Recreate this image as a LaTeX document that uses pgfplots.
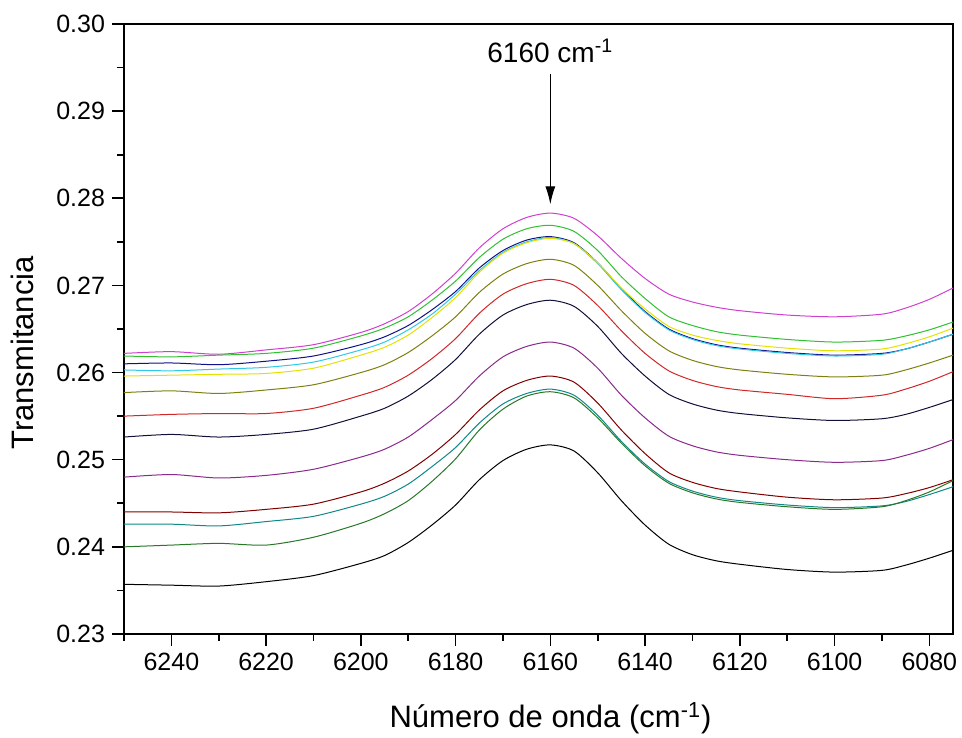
\documentclass[border=0pt]{standalone}
\usepackage{fontspec}
\setmainfont{Liberation Sans}
\usepackage{pgfplots}
\usepackage{pgfplotstable}
\pgfplotsset{compat=1.18}
\usetikzlibrary{arrows.meta}

\definecolor{cMag}{HTML}{D040D0}
\definecolor{cGrn}{HTML}{30C030}
\definecolor{cNavy}{HTML}{10108A}
\definecolor{cCyan}{HTML}{30C8E8}
\definecolor{cYel}{HTML}{E2E200}
\definecolor{cOlive}{HTML}{808010}
\definecolor{cRed}{HTML}{D02828}
\definecolor{cDark}{HTML}{101038}
\definecolor{cPurp}{HTML}{8A2A8A}
\definecolor{cWine}{HTML}{800000}
\definecolor{cTeal}{HTML}{108888}
\definecolor{cDGrn}{HTML}{287828}

% transmittance spectra, one column per sample
\pgfplotstableread{
x    c1    c2    c3    c4    c5    c6    c7    c8    c9    c10   c11   c12   c13
6250 .2622 .2619 .2610 .2603 .2596 .2577 .2550 .2526 .2480 .2440 .2426 .2400 .2357
6240 .2624 .2618 .2611 .2602 .2597 .2579 .2552 .2529 .2483 .2440 .2426 .2402 .2356
6230 .2621 .2620 .2609 .2604 .2598 .2576 .2553 .2526 .2479 .2439 .2424 .2404 .2355
6220 .2626 .2622 .2613 .2606 .2599 .2580 .2553 .2529 .2482 .2443 .2429 .2402 .2360
6210 .2632 .2628 .2619 .2612 .2605 .2586 .2559 .2535 .2489 .2449 .2435 .2411 .2367
6200 .2646 .2642 .2632 .2626 .2620 .2600 .2574 .2550 .2503 .2463 .2449 .2427 .2381
6195 .2656 .2651 .2641 .2635 .2629 .2609 .2583 .2559 .2512 .2473 .2458 .2438 .2390
6190 .2670 .2664 .2654 .2649 .2643 .2623 .2597 .2573 .2526 .2487 .2472 .2453 .2405
6185 .2690 .2683 .2672 .2667 .2663 .2642 .2616 .2592 .2546 .2506 .2492 .2475 .2425
6180 .2714 .2705 .2693 .2690 .2686 .2664 .2639 .2615 .2568 .2529 .2514 .2501 .2448
6175 .2743 .2732 .2720 .2717 .2715 .2692 .2668 .2644 .2596 .2557 .2542 .2534 .2477
6170 .2765 .2753 .2740 .2738 .2737 .2713 .2690 .2666 .2618 .2579 .2564 .2558 .2499
6165 .2778 .2765 .2752 .2750 .2749 .2725 .2702 .2678 .2630 .2591 .2576 .2573 .2512
6160 .2783 .2769 .2756 .2755 .2754 .2730 .2707 .2683 .2635 .2596 .2581 .2578 .2517
6155 .2777 .2762 .2749 .2748 .2748 .2723 .2700 .2676 .2628 .2589 .2574 .2571 .2510
6150 .2757 .2740 .2726 .2725 .2726 .2700 .2677 .2653 .2605 .2565 .2551 .2548 .2485
6145 .2731 .2710 .2696 .2695 .2697 .2671 .2648 .2622 .2574 .2534 .2521 .2519 .2453
6140 .2708 .2685 .2670 .2669 .2673 .2645 .2622 .2596 .2548 .2507 .2495 .2493 .2425
6135 .2690 .2664 .2650 .2649 .2653 .2625 .2602 .2575 .2527 .2485 .2475 .2473 .2403
6130 .2681 .2654 .2639 .2638 .2643 .2614 .2591 .2564 .2516 .2474 .2464 .2462 .2391
6125 .2675 .2647 .2632 .2631 .2637 .2607 .2584 .2557 .2509 .2467 .2457 .2455 .2384
6120 .2671 .2643 .2628 .2627 .2633 .2603 .2580 .2553 .2505 .2463 .2453 .2451 .2380
6110 .2666 .2638 .2623 .2622 .2628 .2598 .2575 .2548 .2500 .2457 .2448 .2446 .2374
6100 .2664 .2635 .2620 .2619 .2625 .2595 .2570 .2545 .2497 .2454 .2445 .2443 .2371
6090 .2667 .2637 .2622 .2621 .2627 .2597 .2574 .2547 .2499 .2456 .2447 .2446 .2373
6085 .2674 .2642 .2627 .2627 .2633 .2603 .2581 .2552 .2505 .2461 .2452 .2453 .2379
6080 .2684 .2649 .2635 .2635 .2641 .2611 .2590 .2560 .2513 .2468 .2460 .2463 .2387
6075 .2697 .2658 .2644 .2644 .2651 .2620 .2601 .2569 .2523 .2477 .2469 .2476 .2396
}\spectra

\begin{document}
\begin{tikzpicture}
\begin{axis}[
  scale only axis,
  width=414.5pt,
  height=305pt,
  x dir=reverse,
  xmin=6075, xmax=6250,
  ymin=0.23, ymax=0.30,
  xtick={6080,6100,6120,6140,6160,6180,6200,6220,6240},
  minor xtick={6090,6110,6130,6150,6170,6190,6210,6230,6250},
  ytick={0.23,0.24,0.25,0.26,0.27,0.28,0.29,0.30},
  minor ytick={0.235,0.245,0.255,0.265,0.275,0.285,0.295},
  tick pos=left,
  tick align=outside,
  major tick length=6pt,
  minor tick length=3.5pt,
  tick style={black, line width=0.8pt},
  axis line style={line width=1pt},
  scaled y ticks=false,
  /pgf/number format/assume math mode=true,
  xticklabel style={/pgf/number format/set thousands separator={}},
  yticklabel style={/pgf/number format/.cd, fixed, fixed zerofill, precision=2},
  tick label style={font=\fontsize{12.5}{14}\selectfont},
  xlabel={Número de onda (cm\textsuperscript{-1})},
  ylabel={Transmitancia},
  every axis x label/.style={at={(axis description cs:0.5,0)}, anchor=center, xshift=6pt, yshift=-42pt, font=\fontsize{15.5}{18}\selectfont},
  every axis y label/.style={at={(axis description cs:0,0.5)}, anchor=center, rotate=90, yshift=51pt, xshift=-12pt, font=\fontsize{15.5}{18}\selectfont},
  every axis plot/.append style={line width=0.5pt, no markers, smooth, tension=0.45, line join=round},
]
\addplot[cMag]  table[x=x, y=c1]  {\spectra};
\addplot[cGrn]  table[x=x, y=c2]  {\spectra};
\addplot[cNavy] table[x=x, y=c3]  {\spectra};
\addplot[cCyan] table[x=x, y=c4]  {\spectra};
\addplot[cYel]  table[x=x, y=c5]  {\spectra};
\addplot[cOlive] table[x=x, y=c6] {\spectra};
\addplot[cRed]  table[x=x, y=c7]  {\spectra};
\addplot[cDark] table[x=x, y=c8]  {\spectra};
\addplot[cPurp] table[x=x, y=c9]  {\spectra};
\addplot[cWine] table[x=x, y=c10] {\spectra};
\addplot[cTeal] table[x=x, y=c11] {\spectra};
\addplot[cDGrn] table[x=x, y=c12] {\spectra};
\addplot[black] table[x=x, y=c13] {\spectra};

\draw[-{Latex[length=9pt,width=5pt]}, line width=0.6pt] (axis cs:6160,0.2943) -- (axis cs:6160,0.2793);
\node[font=\fontsize{14}{16}\selectfont] at (axis cs:6160,0.2969) {6160 cm\textsuperscript{-1}};

\coordinate (sw) at (axis cs:6250,0.23);
\coordinate (ne) at (axis cs:6075,0.30);
\end{axis}
\pgfresetboundingbox
\path[use as bounding box] ([xshift=-62pt,yshift=-52pt]sw) rectangle ([xshift=4.5pt,yshift=12pt]ne);
\end{tikzpicture}
\end{document}
